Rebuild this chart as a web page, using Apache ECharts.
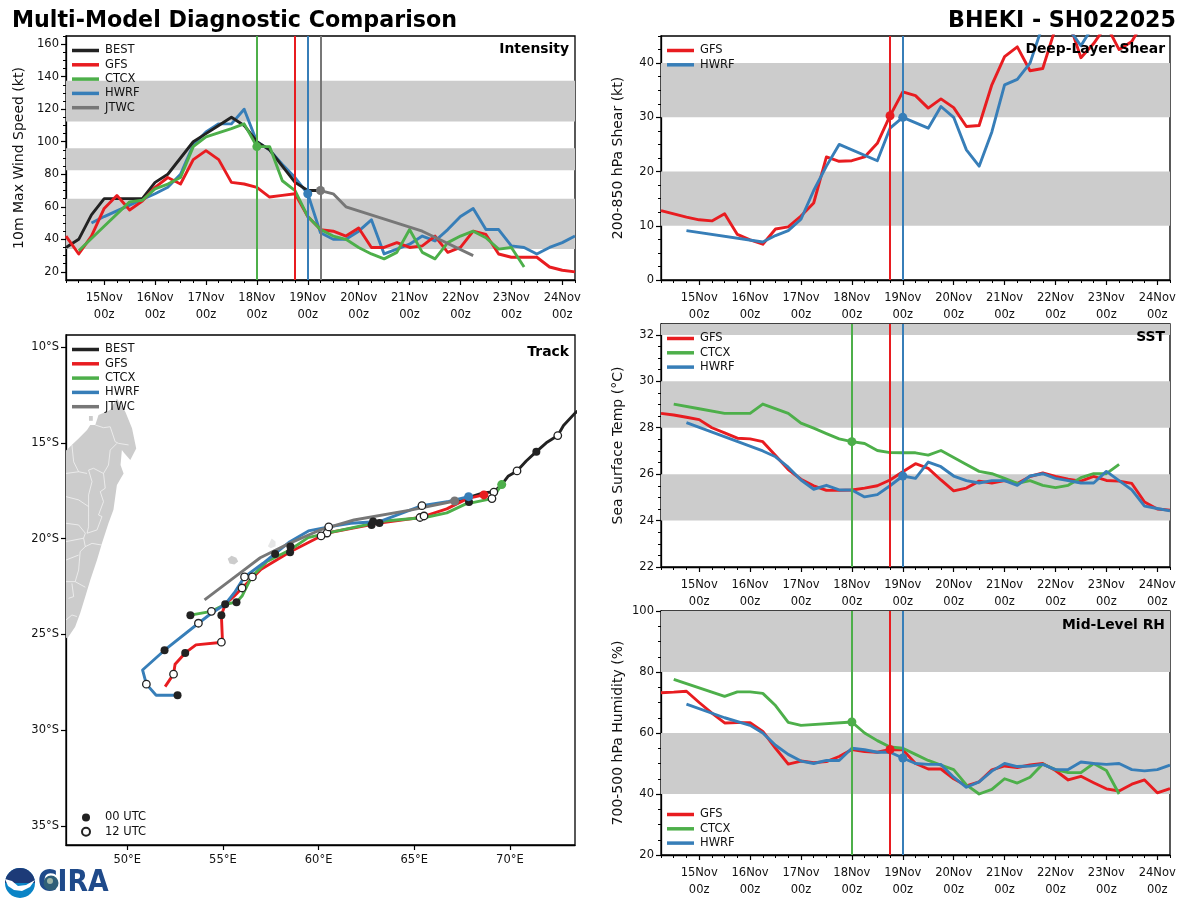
<!DOCTYPE html>
<html>
<head>
<meta charset="utf-8">
<style>html,body{margin:0;padding:0;background:#fff}#chart{width:1200px;height:900px}</style>
<script src="https://cdn.jsdelivr.net/npm/echarts@6/dist/echarts.min.js"></script>
</head>
<body>
<div id="chart"></div>
<script>
const N = null
const dayNames = ['14Nov', '15Nov', '16Nov', '17Nov', '18Nov', '19Nov', '20Nov', '21Nov', '22Nov', '23Nov', '24Nov']

// 6 hourly values, first one is 14Nov 06z
const bestWind = [35,40,55,65,65,65,65,75,80,90,100,105,110,115,110,100,95,85,75,70,70]
const gfsWind = [42,31,42,59,67,58,63.5,72,78,74,89,94.5,89,75,74,72,66,67,68,54,46,45,42,47,35,35,38,35,36,42,32,35,45,43,31,29,29,29,23,21,20]
const ctcxWind = [N,33,N,48,N,63,64,71,74,78,97,103,N,108,111,97,97,76,70,54,46,42,40,35,31,28,32,46,32,28,38,42,45,41,34,35,23]
const hwrfWind = [N,N,50,54,N,61,N,68,72,80,98,106,111,111,120,100,95,86,78,68,44,40,40,45,52,31,34,37,42,39,46,54,59,46,46,36,35,31,35,38,42]
const jtwcWind = [N,N,N,N,N,N,N,N,N,N,N,N,N,N,N,N,N,N,N,N,70,68,60,N,N,N,N,N,45,N,N,N,30]

const gfsShear = [12.8,12.2,11.6,11.1,10.9,12.2,8.4,7.4,6.6,9.4,9.8,11.8,14.2,22.7,21.9,22,22.7,25.2,30.3,34.7,34,31.7,33.4,31.8,28.3,28.5,36,41.2,43,38.6,39,46.5,48,41,43.6,47,42.5,44,48,50,50]
const hwrfShear = [N,N,9.1,N,N,N,N,N,7,8.2,9.1,11.2,16.5,21,25,N,N,22,28,30,N,28,32,30,24,21,27.3,36,37,40,47,49,46.5,43.2,47,50,50,50,50,50,50]

const gfsSst = [28.62,28.55,28.45,28.35,28,27.78,27.55,27.52,27.4,26.8,26.2,25.78,25.5,25.3,25.3,25.32,25.4,25.5,25.75,26.1,26.45,26.25,25.75,25.28,25.4,25.7,25.62,25.72,25.6,25.9,26.05,25.9,25.78,25.7,25.9,25.73,25.7,25.6,24.8,24.5,24.45]
const ctcxSst = [N,29.02,N,28.82,N,28.62,28.62,28.62,29.02,N,28.62,28.2,27.98,27.75,27.52,27.4,27.32,27.02,26.93,26.92,26.92,26.82,27.02,26.72,26.42,26.12,26.02,25.82,25.6,25.72,25.52,25.42,25.52,25.85,26.02,26.02,26.42]
const hwrfSst = [N,N,28.22,N,N,N,N,N,27,26.75,26.3,25.75,25.35,25.52,25.32,25.32,25.02,25.12,25.5,25.92,25.82,26.52,26.32,25.92,25.72,25.62,25.72,25.72,25.52,25.92,26.02,25.82,25.72,25.62,25.62,26.12,25.72,25.32,24.62,24.52,24.42]

const gfsRh = [73.2,73.4,73.7,70,66.5,63.3,63.4,63.4,60.5,55,49.8,50.8,50.3,50.6,52.3,54.6,53.9,53.7,54.6,54.5,50,48.2,48.2,45,42.7,44,47.9,49.2,48.7,49.5,50,47.7,44.6,45.8,43.7,41.7,41,43.2,44.6,40.4,41.8]
const ctcxRh = [N,77.6,N,N,N,72,73.5,73.5,73,69,63.5,62.5,N,N,N,63.6,60,57.5,55.4,55,53,51,49.5,48,43,40,41.5,45,43.6,45.5,49.8,48,47,47,50,47.7,40]
const hwrfRh = [N,N,69.5,N,N,65,N,62.5,60,56,53,50.8,50,51,51,55,54.5,53.7,53.7,51.8,50,49.7,49.7,45.5,42.2,44,47.5,50,49,49.2,49.7,48,48,50.5,50,49.7,50,48,47.6,48,49.5]

// grey bands
const windBands = [[34,65],[82.5,96],[112.5,137.5]]
const shearBands = [[10,20],[30,40]]
const sstBands = [[24,26],[28,30],[32,33]]
const rhBands = [[40,60],[80,100]]

const windTicks = [20,40,60,80,100,120,140,160]
const shearTicks = [0,10,20,30,40]
const sstTicks = [22,24,26,28,30,32]
const rhTicks = [20,40,60,80,100]
const lonTicks = [50,55,60,65,70]
const latTicks = [-10,-15,-20,-25,-30,-35]

// track lon/lat
const bestTrack = [[74,-13],[73.4,-13.45],[72.8,-14.1],[72.5,-14.62],[71.9,-15.0],[71.38,-15.46],[70.85,-15.95],[70.37,-16.47],[69.9,-16.75],[69.57,-17.18],[69.16,-17.57],[68.64,-17.6],[67.86,-17.85],[67.11,-18.04]]
const gfsTrack = [[68.64,-17.72],[67.8,-17.9],[66.7,-18.45],[65.3,-18.9],[63.18,-19.19],[60.44,-19.71],[58.5,-20.7],[57,-21.6],[56,-22.58],[55.6,-23],[55.12,-23.43],[54.92,-24],[54.98,-25.41],[53.59,-25.55],[53.03,-25.97],[52.5,-26.56],[52.42,-27.08],[51.98,-27.73]]
const ctcxTrack = [[69.57,-17.18],[69.06,-17.91],[67.67,-18.2],[66.7,-18.66],[65.56,-18.9],[63.45,-19.08],[60.8,-19.64],[59.45,-19.95],[58.5,-20.6],[57.3,-21.2],[56.5,-22],[56.25,-22.5],[56,-23],[55.71,-23.32],[55.12,-23.43],[54.4,-23.8],[53.3,-24]]
const hwrfTrack = [[67.84,-17.81],[66.8,-18.06],[65.4,-18.28],[63.18,-19.11],[61.68,-19.2],[60.53,-19.39],[59.47,-19.6],[58.5,-20.16],[57.1,-21.29],[56.13,-22],[55.64,-22.77],[55.12,-23.43],[54.4,-23.9],[53.72,-24.42],[51.95,-25.83],[50.8,-26.86],[51,-27.6],[51.51,-28.18],[52.63,-28.18]]
const jtwcTrack = [[67.11,-18.04],[64.86,-18.5],[61.85,-19.03],[60.08,-19.55],[58.5,-20.24],[56.95,-21],[56.06,-21.67],[54.04,-23.2]]

const bestDots00 = [[71.38,-15.46],[67.86,-18.09]]
const bestDots12 = [[72.5,-14.62],[70.37,-16.47],[69.16,-17.57]]
const gfsDots00 = [[63.18,-19.19],[58.51,-20.72],[54.92,-24],[53.03,-25.97]]
const gfsDots12 = [[65.3,-18.9],[60.44,-19.71],[56,-22.58],[54.92,-25.41],[52.42,-27.08]]
const ctcxDots00 = [[62.77,-19.29],[58.53,-20.42],[55.71,-23.32],[53.3,-24]]
const ctcxDots12 = [[69.06,-17.91],[65.51,-18.82],[60.13,-19.86],[56.54,-22],[54.4,-23.8]]
const hwrfDots00 = [[62.85,-19.11],[57.73,-20.8],[55.12,-23.43],[51.95,-25.83],[52.63,-28.18]]
const hwrfDots12 = [[65.4,-18.28],[60.53,-19.39],[56.13,-22],[53.72,-24.42],[51,-27.6]]

// land
const madagascar = [[46.8,-15.4],[47.28,-14.94],[47.46,-14.77],[47.9,-14.33],[48.07,-14.07],[48.33,-14.07],[48.5,-13.55],[49.11,-13.29],[49.3,-12.95],[49.46,-12.7],[49.9,-13.38],[50.25,-14.24],[50.47,-15.29],[50.16,-15.9],[49.85,-15.55],[49.72,-15.38],[49.65,-16.16],[49.81,-16.6],[49.46,-17.2],[49.28,-18.5],[49.02,-19.2],[48.68,-20.25],[48.42,-21.12],[48.07,-22.16],[47.81,-23.03],[47.54,-23.9],[47.28,-24.6],[46.93,-25.12],[46.8,-25.2]]
const reunion = [[55.25,-21.05],[55.45,-20.9],[55.7,-21],[55.8,-21.2],[55.6,-21.35],[55.35,-21.3]]
const mauritius = [[57.35,-20.4],[57.55,-20.0],[57.75,-20.15],[57.75,-20.4],[57.5,-20.5]]
const nosyBe = [[48.0,-13.6],[48.2,-13.6],[48.2,-13.85],[48.0,-13.85]]
const borders = [
  [[48.33,-14.07],[48.76,-14.21],[49.11,-14.16],[49.37,-14.94],[49.55,-15.03],[50.07,-15.11]],
  [[49.46,-15.03],[49.11,-15.38],[49.02,-16.16],[48.76,-16.6],[48.24,-16.33],[47.98,-16.42],[48.16,-17.03],[47.98,-17.72],[47.98,-18.77],[47.98,-19.38],[47.9,-19.72]],
  [[47.11,-15.11],[47.2,-15.99],[47.46,-16.51],[46.8,-16.6]],
  [[47.46,-16.51],[47.9,-16.6]],
  [[46.8,-17.81],[47.46,-17.98],[47.98,-18.33]],
  [[48.76,-16.6],[48.85,-17.37],[48.59,-17.55],[48.76,-18.07],[48.5,-18.77],[48.68,-18.85],[48.42,-19.55],[47.9,-19.72]],
  [[46.8,-19.2],[47.46,-19.29],[47.81,-19.72]],
  [[46.8,-20.16],[47.72,-19.98],[47.81,-19.72]],
  [[47.72,-19.98],[47.81,-20.42],[48.16,-20.25],[48.68,-20.34]],
  [[47.81,-20.42],[47.54,-20.68],[47.46,-21.64],[47.28,-22.25],[47.81,-22.54]],
  [[46.8,-21.12],[47.46,-20.86]],
  [[46.8,-22.25],[47.28,-22.25]],
  [[47.11,-22.34],[47.2,-23.03],[46.93,-23.12]],
  [[46.8,-24.25],[47.11,-23.99],[47.37,-24.07]]
]

const RED = '#e81c20'
const GREEN = '#4daf4a'
const BLUE = '#377eb8'
const GREY = '#777777'
const DARK = '#222222'
const FONT = 'DejaVu Sans'

const times = []
dayNames.forEach(d => ['00z', '06z', '12z', '18z'].forEach(h => times.push(d + '\n' + h)))
const categories = times.slice(1, 42)
const isMidnight = i => (i - 3) % 4 === 0

const grids = [
  { left: 66, top: 36, width: 509, height: 244 },
  { left: 661, top: 36, width: 509, height: 244 },
  { left: 66, top: 335, width: 509, height: 510 },
  { left: 661, top: 324, width: 509, height: 243 },
  { left: 661, top: 611, width: 509, height: 244 }
]

const xAxes = []
const yAxes = []
const series = []
const BLACK_LINE = { show: true, onZero: false, lineStyle: { color: '#000', width: 1.3 } }

function range (min, max, step) {
  const out = []
  for (let v = min; v <= max + 1e-6; v += step) out.push(v)
  return out
}

function addTimeAxes (g) {
  xAxes.push({
    type: 'category', gridIndex: g, data: categories, boundaryGap: false, axisLine: BLACK_LINE,
    axisTick: { interval: i => isMidnight(i), length: 5, alignWithLabel: true, lineStyle: { color: '#000', width: 1.2 } },
    axisLabel: { interval: i => isMidnight(i), fontFamily: FONT, fontSize: 11.5, color: '#111', lineHeight: 16.5, margin: 10 }
  })
  xAxes.push({
    type: 'category', gridIndex: g, data: categories, boundaryGap: false, position: 'bottom', axisLine: { show: false },
    axisTick: { interval: 0, length: 3, alignWithLabel: true, lineStyle: { color: '#000', width: 1 } }, axisLabel: { show: false }
  })
}

function addValueAxes (g, min, max, ticks, minorStep, name, gap) {
  yAxes.push({
    type: 'value', gridIndex: g, min, max, name, nameLocation: 'middle', nameGap: gap,
    nameTextStyle: { fontFamily: FONT, fontSize: 14, color: '#111' },
    splitLine: { show: false }, axisLine: BLACK_LINE,
    axisTick: { show: true, customValues: ticks, length: 5, lineStyle: { color: '#000', width: 1.2 } },
    axisLabel: { customValues: ticks, fontFamily: FONT, fontSize: 11.5, color: '#111', margin: 7, padding: [2, 0, 0, 0] }
  })
  yAxes.push({
    type: 'value', gridIndex: g, min, max, splitLine: { show: false }, axisLine: { show: false }, position: 'left',
    axisTick: { show: true, customValues: range(ticks[0], max, minorStep), length: 3, lineStyle: { color: '#000', width: 1 } },
    axisLabel: { show: false }
  })
}

function addBands (g, bands) {
  series.push({
    type: 'line', name: 'bands', xAxisIndex: g * 2, yAxisIndex: g * 2, data: [], silent: true, z: 1,
    markArea: {
      silent: true, itemStyle: { color: '#cccccc' }, z: 1,
      data: bands.map(b => [{ yAxis: b[0] }, { yAxis: b[1] }])
    }
  })
}

function addModel (g, name, color, values, lineAt, dotAt) {
  const s = {
    type: 'line', name, xAxisIndex: g * 2, yAxisIndex: g * 2, data: values, connectNulls: true, showSymbol: false, symbol: 'none',
    lineStyle: { color, width: 2.9, join: 'round' }, itemStyle: { color }, silent: true, z: 3
  }
  if (lineAt != null) {
    s.markLine = {
      silent: true, symbol: 'none', animation: false, label: { show: false },
      lineStyle: { color, width: 2, type: 'solid' }, data: [{ xAxis: categories[lineAt] }]
    }
  }
  if (dotAt != null) {
    s.markPoint = {
      silent: true, symbol: 'circle', symbolSize: 9, label: { show: false }, itemStyle: { color }, z: 5,
      data: [{ coord: [categories[dotAt], values[dotAt]] }]
    }
  }
  series.push(s)
}

// time panels: grid 2 is the map, its axes sit in the same slots
addTimeAxes(0)
addValueAxes(0, 15, 165, windTicks, 5, '10m Max Wind Speed (kt)', 40)
addTimeAxes(1)
addValueAxes(1, 0, 45, shearTicks, 2.5, '200-850 hPa Shear (kt)', 36)

// map axes
xAxes.push({
  type: 'value', gridIndex: 2, min: 46.8, max: 73.4, splitLine: { show: false }, axisLine: BLACK_LINE,
  axisTick: { customValues: lonTicks, length: 5, lineStyle: { color: '#000', width: 1.2 } },
  axisLabel: { customValues: lonTicks, formatter: v => v + '°E', fontFamily: FONT, fontSize: 11.5, color: '#111', margin: 9 }
})
xAxes.push({ type: 'value', gridIndex: 2, min: 46.8, max: 73.4, show: false, splitLine: { show: false } })
yAxes.push({
  type: 'value', gridIndex: 2, min: -36, max: -9.37, splitLine: { show: false }, axisLine: BLACK_LINE,
  axisTick: { customValues: latTicks, length: 5, lineStyle: { color: '#000', width: 1.2 } },
  axisLabel: { customValues: latTicks, formatter: v => Math.abs(v) + '°S', fontFamily: FONT, fontSize: 11.5, color: '#111', margin: 7, padding: [2, 0, 0, 0] }
})
yAxes.push({ type: 'value', gridIndex: 2, min: -36, max: -9.37, show: false, splitLine: { show: false } })

addTimeAxes(3)
addValueAxes(3, 22, 32.47, sstTicks, 0.5, 'Sea Surface Temp (°C)', 36)
addTimeAxes(4)
addValueAxes(4, 20, 100, rhTicks, 5, '700-500 hPa Humidity (%)', 36)

addBands(0, windBands)
addModel(0, 'HWRF', BLUE, hwrfWind, 19, 19)
addModel(0, 'BEST', DARK, bestWind)
addModel(0, 'GFS', RED, gfsWind, 18)
addModel(0, 'CTCX', GREEN, ctcxWind, 15, 15)
addModel(0, 'JTWC', GREY, jtwcWind, 20, 20)

addBands(1, shearBands)
addModel(1, 'GFS', RED, gfsShear, 18, 18)
addModel(1, 'HWRF', BLUE, hwrfShear, 19, 19)

addBands(3, sstBands)
addModel(3, 'GFS', RED, gfsSst, 18)
addModel(3, 'CTCX', GREEN, ctcxSst, 15, 15)
addModel(3, 'HWRF', BLUE, hwrfSst, 19, 19)

addBands(4, rhBands)
addModel(4, 'GFS', RED, gfsRh, 18, 18)
addModel(4, 'CTCX', GREEN, ctcxRh, 15, 15)
addModel(4, 'HWRF', BLUE, hwrfRh, 19, 19)

// map land
const landShapes = [madagascar, reunion, nosyBe]
series.push({
  type: 'custom', name: 'land', xAxisIndex: 4, yAxisIndex: 4, clip: true, silent: true, z: 1, data: landShapes.map((p, i) => [p[0][0], p[0][1], i]),
  renderItem (params, api) {
    const pts = landShapes[params.dataIndex].map(p => api.coord(p))
    return { type: 'polygon', shape: { points: pts }, style: { fill: '#cccccc' } }
  }
})
series.push({
  type: 'custom', name: 'mauritius', xAxisIndex: 4, yAxisIndex: 4, silent: true, z: 1, data: [[mauritius[0][0], mauritius[0][1]]],
  renderItem (params, api) {
    return { type: 'polygon', shape: { points: mauritius.map(p => api.coord(p)) }, style: { fill: '#e6e6e6' } }
  }
})
series.push({
  type: 'custom', name: 'borders', xAxisIndex: 4, yAxisIndex: 4, silent: true, z: 1, data: borders.map(b => [b[0][0], b[0][1]]),
  renderItem (params, api) {
    const pts = borders[params.dataIndex].map(p => api.coord(p))
    return { type: 'polyline', shape: { points: pts }, style: { stroke: '#f2f2f2', lineWidth: 0.8, fill: null } }
  }
})

function addTrack (name, color, track, dots00, dots12, hasNow) {
  series.push({
    type: 'line', name, xAxisIndex: 4, yAxisIndex: 4, data: track, showSymbol: false, symbol: 'none', silent: true, z: 3,
    lineStyle: { color, width: 2.9, join: 'round' }, itemStyle: { color }
  })
  if (dots00.length) {
    series.push({
      type: 'scatter', name: '00 UTC', xAxisIndex: 4, yAxisIndex: 4, data: dots00, symbolSize: 8, silent: true, z: 3,
      itemStyle: { color: DARK, opacity: 1 }
    })
  }
  if (dots12.length) {
    series.push({
      type: 'scatter', name: '12 UTC', xAxisIndex: 4, yAxisIndex: 4, data: dots12, symbolSize: 7.5, silent: true, z: 3,
      itemStyle: { color: '#fff', borderColor: DARK, borderWidth: 1.3, opacity: 1 }
    })
  }
  if (hasNow) {
    series.push({
      type: 'scatter', name: name + ' now', xAxisIndex: 4, yAxisIndex: 4, data: [track[0]], symbolSize: 9, silent: true, z: 4,
      itemStyle: { color, opacity: 1 }
    })
  }
}
addTrack('BEST', DARK, bestTrack, bestDots00, bestDots12, false)
addTrack('GFS', RED, gfsTrack, gfsDots00, gfsDots12, true)
addTrack('CTCX', GREEN, ctcxTrack, ctcxDots00, ctcxDots12, true)
addTrack('HWRF', BLUE, hwrfTrack, hwrfDots00, hwrfDots12, true)
addTrack('JTWC', GREY, jtwcTrack, [], [], true)

function lineLegend (left, top, names) {
  return {
    left, top, orient: 'vertical', padding: 0, itemGap: 1.3, icon: 'rect', itemWidth: 27, itemHeight: 3.5, selectedMode: false,
    textStyle: { fontFamily: FONT, fontSize: 11.5, color: '#111', lineHeight: 13, padding: [0, 0, 0, 1] }, data: names
  }
}

function panelTitle (text, right, top) {
  return { text, right, top, padding: 0, textStyle: { fontFamily: FONT, fontSize: 13.9, fontWeight: 'bold', color: '#000' } }
}

const option = {
  animation: false,
  backgroundColor: '#fff',
  title: [
    { text: 'Multi-Model Diagnostic Comparison', left: 12, top: 10, padding: 0, textStyle: { fontFamily: FONT, fontSize: 22.2, fontWeight: 'bold', color: '#000' } },
    { text: 'BHEKI - SH022025', right: 24, top: 10, padding: 0, textStyle: { fontFamily: FONT, fontSize: 22.2, fontWeight: 'bold', color: '#000' } },
    panelTitle('Intensity', 631, 42),
    panelTitle('Deep-Layer Shear', 35, 42),
    panelTitle('Track', 631, 345),
    panelTitle('SST', 35, 330),
    panelTitle('Mid-Level RH', 35, 618)
  ],
  grid: grids.map(g => Object.assign({ show: true, borderColor: '#000', borderWidth: 1.3, backgroundColor: 'transparent', containLabel: false }, g)),
  xAxis: xAxes,
  yAxis: yAxes,
  legend: [
    lineLegend(72, 44, ['BEST', 'GFS', 'CTCX', 'HWRF', 'JTWC']),
    lineLegend(667, 44, ['GFS', 'HWRF']),
    lineLegend(72, 343, ['BEST', 'GFS', 'CTCX', 'HWRF', 'JTWC']),
    lineLegend(667, 332, ['GFS', 'CTCX', 'HWRF']),
    lineLegend(667, 808, ['GFS', 'CTCX', 'HWRF']),
    {
      left: 81, top: 811, orient: 'vertical', padding: 0, itemGap: 1.3, itemWidth: 8, itemHeight: 8, selectedMode: false,
      textStyle: { fontFamily: FONT, fontSize: 11.5, color: '#111', lineHeight: 13, padding: [0, 0, 0, 10] },
      data: [{ name: '00 UTC', icon: 'circle' }, { name: '12 UTC', icon: 'circle' }]
    }
  ],
  series,
  graphic: [
    // NOAA disc
    { type: 'circle', shape: { cx: 20, cy: 883, r: 15 }, style: { fill: '#0a84c6' } },
    { type: 'sector', shape: { cx: 20, cy: 883, r: 15, startAngle: Math.PI, endAngle: 2 * Math.PI }, style: { fill: '#1d3b78' } },
    { type: 'polygon', shape: { points: [[5, 879], [12, 881], [18, 886], [26, 885], [35, 880], [30, 887], [22, 891], [14, 890], [8, 886]] }, style: { fill: '#fff' } },
    // CIRA wordmark
    { type: 'text', x: 38, y: 868, scaleX: 0.89, style: { text: 'CIRA', fontFamily: FONT, fontWeight: 'bold', fontSize: 30, fill: '#1f4a8a' } },
    { type: 'circle', shape: { cx: 51, cy: 883, r: 7.5 }, style: { fill: '#2f5f78' } },
    { type: 'circle', shape: { cx: 50, cy: 881, r: 3 }, style: { fill: '#9fb6a8' } }
  ]
}

const chart = echarts.init(document.getElementById('chart'), null, { renderer: 'canvas' })
chart.setOption(option)
</script>
</body>
</html>
